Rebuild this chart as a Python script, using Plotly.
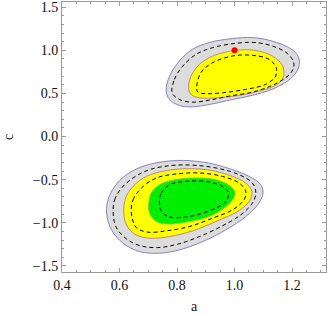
import plotly.graph_objects as go

# ---- contour boundaries (a, c) ----
up_outer_a = [0.762,0.774,0.808,0.854,0.912,0.992,1.061,1.130,1.189,1.217,1.226,1.217,1.195,1.143,1.074,0.993,0.912,0.854,0.808,0.774]
up_outer_c = [0.527,0.701,0.876,1.012,1.090,1.136,1.148,1.108,1.031,0.953,0.857,0.759,0.671,0.566,0.488,0.430,0.372,0.345,0.360,0.430]

up_outer_dash_a = [0.783,0.791,0.820,0.866,0.924,1.004,1.074,1.137,1.183,1.206,1.200,1.178,1.131,1.062,0.981,0.912,0.854,0.808]
up_outer_dash_c = [0.508,0.663,0.817,0.953,1.031,1.081,1.090,1.043,0.965,0.857,0.759,0.683,0.593,0.515,0.469,0.422,0.399,0.430]

up_mid_a = [0.840,0.849,0.878,0.924,0.970,1.001,1.062,1.120,1.160,1.172,1.166,1.137,1.085,1.016,0.947,0.878,0.849]
up_mid_c = [0.566,0.701,0.837,0.934,0.980,1.000,1.003,0.953,0.857,0.759,0.663,0.585,0.527,0.477,0.450,0.450,0.488]

up_mid_dash_a = [0.868,0.883,0.924,0.993,1.062,1.120,1.145,1.143,1.108,1.039,0.958,0.901,0.872]
up_mid_dash_c = [0.566,0.741,0.857,0.934,0.942,0.895,0.799,0.701,0.605,0.547,0.508,0.497,0.515]

lo_outer_a = [0.555,0.560,0.583,0.624,0.681,0.762,0.843,0.924,0.993,1.051,1.091,1.099,1.085,1.039,0.970,0.889,0.808,0.739,0.670,0.612,0.572]
lo_outer_c = [-0.887,-0.733,-0.578,-0.442,-0.345,-0.287,-0.279,-0.317,-0.384,-0.462,-0.558,-0.655,-0.771,-0.927,-1.081,-1.217,-1.314,-1.352,-1.334,-1.236,-1.081]

lo_outer_dash_a = [0.578,0.583,0.607,0.647,0.704,0.785,0.866,0.947,1.016,1.062,1.074,1.062,1.022,0.953,0.878,0.802,0.733,0.670,0.624,0.589]
lo_outer_dash_c = [-0.887,-0.733,-0.597,-0.480,-0.384,-0.334,-0.334,-0.372,-0.442,-0.538,-0.655,-0.771,-0.907,-1.043,-1.159,-1.248,-1.287,-1.264,-1.186,-1.055]

lo_mid_a = [0.615,0.621,0.647,0.693,0.762,0.843,0.924,0.993,1.039,1.060,1.051,1.010,0.935,0.854,0.774,0.704,0.653,0.624]
lo_mid_c = [-0.887,-0.713,-0.578,-0.462,-0.395,-0.372,-0.395,-0.462,-0.538,-0.636,-0.752,-0.869,-0.985,-1.093,-1.159,-1.178,-1.131,-1.023]

lo_mid_dash_a = [0.641,0.647,0.676,0.728,0.797,0.878,0.958,1.016,1.039,1.033,0.993,0.924,0.843,0.762,0.699,0.658]
lo_mid_dash_c = [-0.887,-0.733,-0.597,-0.480,-0.434,-0.422,-0.462,-0.538,-0.636,-0.733,-0.849,-0.945,-1.043,-1.093,-1.108,-1.055]

lo_inner_a = [0.702,0.710,0.739,0.791,0.866,0.935,0.987,1.002,0.993,0.964,0.912,0.843,0.774,0.728,0.704]
lo_inner_c = [-0.752,-0.655,-0.558,-0.500,-0.480,-0.500,-0.578,-0.655,-0.733,-0.829,-0.927,-0.985,-1.015,-0.985,-0.887]

lo_inner_dash_a = [0.739,0.745,0.774,0.831,0.901,0.958,0.979,0.970,0.935,0.878,0.820,0.768,0.745]
lo_inner_dash_c = [-0.771,-0.655,-0.558,-0.520,-0.520,-0.578,-0.655,-0.752,-0.829,-0.899,-0.938,-0.927,-0.860]

point_a = [1.0]
point_c = [1.0]

x_ticks = [0.4, 0.6, 0.8, 1.0, 1.2]
y_ticks = [-1.5, -1.0, -0.5, 0.0, 0.5, 1.0, 1.5]

SERIF = "Liberation Serif, Times New Roman, serif"


def closed(v):
    return list(v) + [v[0]]


fig = go.Figure()


def region(a, c, fill, line):
    fig.add_trace(go.Scatter(x=closed(a), y=closed(c), mode="lines", fill="toself",
                             fillcolor=fill, line=dict(color=line, width=0.8, shape="spline", smoothing=1.0),
                             hoverinfo="skip", showlegend=False))


def dashed(a, c):
    fig.add_trace(go.Scatter(x=closed(a), y=closed(c), mode="lines",
                             line=dict(color="black", width=1, dash="4px,3px", shape="spline", smoothing=1.0),
                             hoverinfo="skip", showlegend=False))


GRAY = "#dcdcdc"
YELLOW = "#ffff00"
GREEN = "#00ee00"
BLUE = "#6a6ab8"
MAUVE = "#b0708a"

region(up_outer_a, up_outer_c, GRAY, BLUE)
region(up_mid_a, up_mid_c, YELLOW, MAUVE)
region(lo_outer_a, lo_outer_c, GRAY, BLUE)
region(lo_mid_a, lo_mid_c, YELLOW, MAUVE)
region(lo_inner_a, lo_inner_c, GREEN, "#88cc44")

dashed(up_outer_dash_a, up_outer_dash_c)
dashed(up_mid_dash_a, up_mid_dash_c)
dashed(lo_outer_dash_a, lo_outer_dash_c)
dashed(lo_mid_dash_a, lo_mid_dash_c)
dashed(lo_inner_dash_a, lo_inner_dash_c)

fig.add_trace(go.Scatter(x=point_a, y=point_c, mode="markers",
                         marker=dict(color="#ff0000", size=6), showlegend=False, hoverinfo="skip"))

axis_common = dict(showgrid=False, zeroline=False, showline=True, linecolor="#999999", linewidth=1,
                   mirror="allticks", ticks="inside", ticklen=4, tickcolor="#999999",
                   automargin=False,
                   tickfont=dict(family=SERIF, size=14, color="#111111"),
                   minor=dict(ticks="inside", ticklen=2, tickcolor="#999999"))

fig.update_xaxes(range=[0.4, 1.318], tickvals=x_ticks, ticktext=[f"{v:.1f}" for v in x_ticks],
                 minor_dtick=0.05,
                 title=dict(text="a", font=dict(family=SERIF, size=14, color="#111111")),
                 **axis_common)
fig.update_yaxes(range=[-1.57, 1.56], tickvals=y_ticks,
                 ticktext=[("\u2212" if v < 0 else "") + f"{abs(v):.1f}" for v in y_ticks],
                 minor_dtick=0.1,
                 title=dict(text="c", font=dict(family=SERIF, size=14, color="#111111")),
                 **axis_common)

fig.update_layout(width=327, height=314, margin=dict(l=62, r=1, t=2, b=42, autoexpand=False),
                  font=dict(family=SERIF, size=14, color="#111111"),
                  plot_bgcolor="white", paper_bgcolor="white", showlegend=False)

fig.write_html("out.html", config={"displayModeBar": False},
               post_script="document.body.style.margin='0';document.body.style.overflow='hidden';")
